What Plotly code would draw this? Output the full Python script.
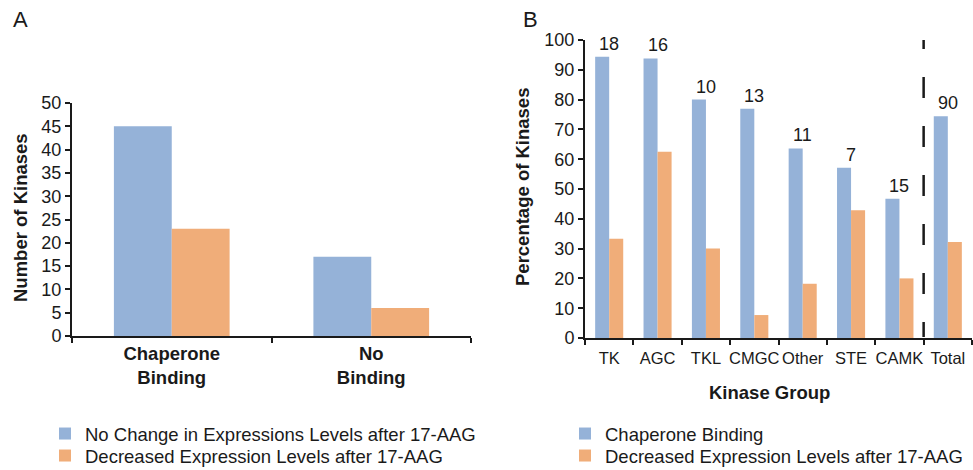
import plotly.graph_objects as go

# ---------------- Data ----------------
# Panel A
a_categories = ["Chaperone<br>Binding", "No<br>Binding"]
a_no_change = [45, 17]
a_decreased = [23, 6]
a_ticks = [0, 5, 10, 15, 20, 25, 30, 35, 40, 45, 50]

# Panel B
b_groups = ["TK", "AGC", "TKL", "CMGC", "Other", "STE", "CAMK", "Total"]
b_chaperone = [94.4, 93.8, 80.0, 76.9, 63.6, 57.1, 46.7, 74.4]
b_decreased = [33.3, 62.5, 30.0, 7.7, 18.2, 42.9, 20.0, 32.2]
b_counts = [18, 16, 10, 13, 11, 7, 15, 90]
b_ticks = [0, 10, 20, 30, 40, 50, 60, 70, 80, 90, 100]

BLUE = "#95B2D8"
ORANGE = "#F0AD79"
INK = "#1a1a1a"
FONT = "Liberation Sans, Arial, sans-serif"

W, H = 973, 470

def px_x(p):
    return p / W

def px_y(p):
    return 1 - p / H

fig = go.Figure()

fig.add_trace(go.Bar(x=a_categories, y=a_no_change, name="No Change in Expressions Levels after 17-AAG",
                     marker=dict(color=BLUE, line=dict(width=0)), xaxis="x", yaxis="y",
                     legend="legend2", showlegend=True))
fig.add_trace(go.Bar(x=a_categories, y=a_decreased, name="Decreased Expression Levels after 17-AAG",
                     marker=dict(color=ORANGE, line=dict(width=0)), xaxis="x", yaxis="y",
                     legend="legend3", showlegend=True))

fig.add_trace(go.Bar(x=b_groups, y=b_chaperone, name="Chaperone Binding",
                     marker=dict(color=BLUE, line=dict(width=0)), xaxis="x2", yaxis="y2",
                     legend="legend4", showlegend=True))
fig.add_trace(go.Bar(x=b_groups, y=b_decreased, name="Decreased Expression Levels after 17-AAG",
                     marker=dict(color=ORANGE, line=dict(width=0)), xaxis="x2", yaxis="y2",
                     legend="legend5", showlegend=True))

axis_common = dict(showgrid=False, zeroline=False, showline=True, linecolor=INK, linewidth=2,
                   ticks="outside", ticklen=5, tickwidth=2, tickcolor=INK, automargin=False)

annotations = []
# count labels
for g, v, c in zip(b_groups, b_chaperone, b_counts):
    annotations.append(dict(x=g, y=v, xref="x2", yref="y2", text=str(c), showarrow=False,
                            yanchor="bottom", yshift=1, font=dict(size=18, family=FONT, color=INK)))
# panel letters
annotations.append(dict(x=px_x(20), y=px_y(20), xref="paper", yref="paper", text="A", showarrow=False,
                        xanchor="center", yanchor="middle", font=dict(size=22, family=FONT, color=INK)))
annotations.append(dict(x=px_x(530), y=px_y(19), xref="paper", yref="paper", text="B", showarrow=False,
                        xanchor="center", yanchor="middle", font=dict(size=22, family=FONT, color=INK)))
# axis titles
annotations.append(dict(x=px_x(20), y=px_y(218), xref="paper", yref="paper", text="<b>Number of Kinases</b>",
                        showarrow=False, textangle=-90, xanchor="center", yanchor="middle",
                        font=dict(size=18.5, family=FONT, color=INK)))
annotations.append(dict(x=px_x(522), y=px_y(187), xref="paper", yref="paper", text="<b>Percentage of Kinases</b>",
                        showarrow=False, textangle=-90, xanchor="center", yanchor="middle",
                        font=dict(size=18.5, family=FONT, color=INK)))
annotations.append(dict(x=px_x(769), y=px_y(392), xref="paper", yref="paper", text="<b>Kinase Group</b>",
                        showarrow=False, xanchor="center", yanchor="middle",
                        font=dict(size=18.5, family=FONT, color=INK)))

def legend_at(x_px, top_px):
    return dict(x=px_x(x_px), y=px_y(top_px), xanchor="left", yanchor="top", orientation="v",
                font=dict(size=18.5, family=FONT, color=INK), bgcolor="rgba(0,0,0,0)",
                tracegroupgap=0)

fig.update_layout(
    width=W, height=H,
    showlegend=True,
    margin=dict(l=0, r=0, t=0, b=0, autoexpand=False),
    paper_bgcolor="white", plot_bgcolor="white",
    barmode="group", bargap=0.42, bargroupgap=0,
    font=dict(family=FONT, color=INK),
    xaxis=dict(domain=[px_x(72), px_x(471)], range=[-0.5, 1.5], anchor="y", tickangle=0,
               tickson="boundaries", tickfont=dict(size=18.5, family=FONT, color=INK, weight="bold"),
               **axis_common),
    yaxis=dict(domain=[px_y(336), px_y(103)], range=[0, 50], tickvals=a_ticks, anchor="x",
               tickfont=dict(size=18, family=FONT, color=INK), **axis_common),
    xaxis2=dict(domain=[px_x(585), px_x(972)], range=[-0.5, 7.5], anchor="y2", tickangle=0,
                tickson="boundaries", ticklabelstandoff=4,
                tickfont=dict(size=16.5, family=FONT, color=INK), **axis_common),
    yaxis2=dict(domain=[px_y(338), px_y(40)], range=[0, 100], tickvals=b_ticks, anchor="x2",
                tickfont=dict(size=18, family=FONT, color=INK), **axis_common),
    legend2=legend_at(45, 415),
    legend3=legend_at(45, 437),
    legend4=legend_at(565, 415),
    legend5=legend_at(565, 437),
    annotations=annotations,
    shapes=[dict(type="line", xref="x2", yref="y2", x0=6.5, x1=6.5, y0=101, y1=0,
                 line=dict(color=INK, width=2.5,
                           dash="12px,28px,21px,28px,21px,28px,21px,28px,21px,28px,21px,28px,15px"))],
)

fig.write_html("out.html", post_script="document.body.style.margin='0';",
               config={"displayModeBar": False})
